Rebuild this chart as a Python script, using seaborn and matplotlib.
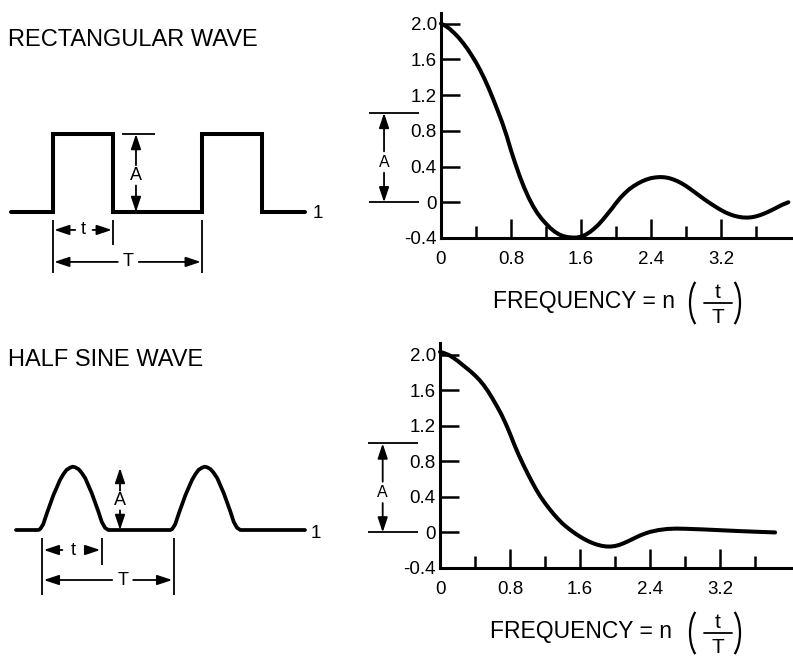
import matplotlib
matplotlib.use("Agg")
import matplotlib.pyplot as plt
from matplotlib.patches import Arc
from matplotlib.ticker import FixedLocator
import seaborn as sns

# ---- data -------------------------------------------------------------
# rectangular pulse train, time in units of the pulse width t, level in units of A
rect_time = [-0.7, 0.0, 0.0, 1.0, 1.0, 2.483, 2.483, 3.483, 3.483, 4.2]
rect_level = [0, 0, 1, 1, 0, 0, 1, 1, 0, 0]
rect_period = 2.483

# one half-sine pulse (offset from pulse start, level), repeated every period
pulse_offset = [-0.06, -0.03, 0.02, 0.08, 0.19, 0.30, 0.355, 0.41, 0.467, 0.51,
                0.555, 0.61, 0.66, 0.72, 0.83, 0.94, 0.995, 1.05, 1.105]
pulse_level = [0.0, 0.016, 0.09, 0.26, 0.55, 0.79, 0.88, 0.95, 0.984, 1.0,
               0.99, 0.96, 0.905, 0.82, 0.58, 0.29, 0.13, 0.036, 0.0]
half_period = 2.2
half_start, half_end = -0.433, 4.383

# spectrum envelope of the rectangular wave
rect_freq = [0.00, 0.05, 0.10, 0.15, 0.20, 0.25, 0.30, 0.35, 0.40, 0.45,
             0.50, 0.55, 0.60, 0.65, 0.70, 0.75, 0.80, 0.85, 0.90, 0.95,
             1.00, 1.05, 1.10, 1.15, 1.20, 1.25, 1.30, 1.35, 1.40, 1.45,
             1.50, 1.55, 1.60, 1.65, 1.70, 1.75, 1.80, 1.85, 1.90, 1.95,
             2.00, 2.05, 2.10, 2.15, 2.20, 2.25, 2.30, 2.35, 2.40, 2.45,
             2.50, 2.55, 2.60, 2.65, 2.70, 2.75, 2.80, 2.85, 2.90, 2.95,
             3.00, 3.05, 3.10, 3.15, 3.20, 3.25, 3.30, 3.35, 3.40, 3.45,
             3.50, 3.55, 3.60, 3.65, 3.70, 3.75, 3.80, 3.85, 3.90, 3.97]
rect_amp = [2.00, 1.975, 1.94, 1.895, 1.845, 1.785, 1.72, 1.645, 1.565, 1.475,
            1.375, 1.265, 1.145, 1.02, 0.89, 0.745, 0.58, 0.43, 0.29, 0.165,
            0.055, -0.04, -0.12, -0.185, -0.24, -0.29, -0.33, -0.36, -0.38, -0.39,
            -0.395, -0.395, -0.385, -0.365, -0.335, -0.295, -0.25, -0.195, -0.135, -0.075,
            -0.01, 0.05, 0.10, 0.145, 0.18, 0.21, 0.235, 0.255, 0.27, 0.278,
            0.282, 0.28, 0.272, 0.257, 0.237, 0.212, 0.182, 0.148, 0.112, 0.076,
            0.04, 0.006, -0.027, -0.058, -0.087, -0.113, -0.134, -0.151, -0.163, -0.17,
            -0.172, -0.168, -0.158, -0.143, -0.124, -0.102, -0.078, -0.053, -0.028, 0.00]

# spectrum envelope of the half sine wave
half_freq = [0.00, 0.05, 0.10, 0.15, 0.20, 0.25, 0.30, 0.35, 0.40, 0.45,
             0.50, 0.55, 0.60, 0.65, 0.70, 0.75, 0.80, 0.85, 0.90, 0.95,
             1.00, 1.05, 1.10, 1.15, 1.20, 1.25, 1.30, 1.35, 1.40, 1.45,
             1.50, 1.55, 1.60, 1.65, 1.70, 1.75, 1.80, 1.85, 1.90, 1.95,
             2.00, 2.05, 2.10, 2.15, 2.20, 2.25, 2.30, 2.35, 2.40, 2.50,
             2.60, 2.70, 2.80, 3.00, 3.20, 3.40, 3.60, 3.83]
half_amp = [2.03, 2.015, 1.995, 1.965, 1.93, 1.89, 1.85, 1.81, 1.765, 1.715,
            1.655, 1.585, 1.505, 1.42, 1.33, 1.225, 1.11, 0.985, 0.87, 0.765,
            0.665, 0.57, 0.48, 0.40, 0.33, 0.265, 0.205, 0.15, 0.10, 0.058,
            0.02, -0.015, -0.047, -0.076, -0.101, -0.122, -0.139, -0.151, -0.158, -0.159,
            -0.153, -0.14, -0.121, -0.099, -0.075, -0.051, -0.029, -0.01, 0.006, 0.027,
            0.039, 0.043, 0.041, 0.034, 0.025, 0.016, 0.008, 0.00]

# axis ticks and labels
x_major = [0, 0.8, 1.6, 2.4, 3.2]
x_major_labels = ["0", "0.8", "1.6", "2.4", "3.2"]
x_minor = [0.4, 1.2, 2.0, 2.8, 3.6]
y_ticks = [-0.4, 0, 0.4, 0.8, 1.2, 1.6, 2.0]
y_tick_labels = ["-0.4", "0", "0.4", "0.8", "1.2", "1.6", "2.0"]

titles = ["RECTANGULAR WAVE", "HALF SINE WAVE"]
freq_label = "FREQUENCY = n"

# ---- style ------------------------------------------------------------
sns.set_theme(style="white", rc={
    "axes.edgecolor": "black", "text.color": "black", "axes.labelcolor": "black",
    "xtick.color": "black", "ytick.color": "black", "axes.grid": False,
})
plt.rcParams["font.family"] = ["Liberation Sans", "DejaVu Sans"]

W, H = 793, 656
fig = plt.figure(figsize=(W / 100, H / 100), dpi=100)


def px_axes(left, top, right, bottom):
    return fig.add_axes([left / W, 1 - bottom / H, (right - left) / W, (bottom - top) / H])


def arrow(ax, start, end, lw=1.3):
    ax.annotate("", xy=end, xytext=start, annotation_clip=False,
                arrowprops=dict(arrowstyle="-|>,head_length=0.75,head_width=0.25",
                                color="black", lw=lw, mutation_scale=12,
                                shrinkA=0, shrinkB=0))


def vline(ax, x, y0, y1, lw=1.3):
    ax.plot([x, x], [y0, y1], color="black", lw=lw, clip_on=False, solid_capstyle="butt")


def hline(ax, y, x0, x1, lw=1.3):
    ax.plot([x0, x1], [y, y], color="black", lw=lw, clip_on=False, solid_capstyle="butt")


# overlay in pixel units for free-standing headings and axis captions
over = fig.add_axes([0, 0, 1, 1])
over.set_xlim(0, W)
over.set_ylim(H, 0)
over.axis("off")

over.text(8, 46, titles[0], fontsize=17, ha="left", va="baseline")
over.text(8, 366, titles[1], fontsize=17, ha="left", va="baseline")

for dy, x0 in [(0, 493), (330, 490)]:
    over.text(x0, 308 + dy, freq_label, fontsize=16.5, ha="left", va="baseline")
    over.text(718, 298 + dy, "t", fontsize=15, ha="center", va="baseline")
    over.text(718, 323 + dy, "T", fontsize=15, ha="center", va="baseline")
    over.plot([704, 732], [303 + dy, 303 + dy], color="black", lw=1.3)
    over.add_patch(Arc((703, 303 + dy), 26, 52, theta1=110, theta2=250, color="black", lw=1.6))
    over.add_patch(Arc((727, 303 + dy), 26, 52, theta1=-70, theta2=70, color="black", lw=1.6))

# ---- rectangular wave -------------------------------------------------
ax_rw = px_axes(0, 100, 330, 290)
ax_rw.set_xlim(-53 / 60, 277 / 60)
ax_rw.set_ylim(-1.0, 112 / 78)
ax_rw.axis("off")
sns.lineplot(x=rect_time, y=rect_level, ax=ax_rw, color="black", linewidth=2.9,
             estimator=None, sort=False)
ax_rw.lines[-1].set_solid_joinstyle("miter")

hline(ax_rw, 1.0, 1.15, 1.7)
arrow(ax_rw, (1.383, 0.60), (1.383, 1.0))
arrow(ax_rw, (1.383, 0.34), (1.383, 0.0))
ax_rw.text(1.383, 0.47, "A", fontsize=13, ha="center", va="center")
vline(ax_rw, 0.0, -0.10, -0.78)
vline(ax_rw, 1.0, -0.10, -0.42)
vline(ax_rw, rect_period, -0.10, -0.78)
arrow(ax_rw, (0.37, -0.23), (0.02, -0.23))
arrow(ax_rw, (0.66, -0.23), (0.98, -0.23))
ax_rw.text(0.5, -0.23, "t", fontsize=13, ha="center", va="center")
arrow(ax_rw, (1.08, -0.64), (0.02, -0.64))
arrow(ax_rw, (1.43, -0.64), (rect_period - 0.02, -0.64))
ax_rw.text(1.25, -0.64, "T", fontsize=13, ha="center", va="center")
ax_rw.text(4.33, -0.077, "1", fontsize=13.5, ha="left", va="baseline")

# ---- half sine wave ---------------------------------------------------
half_time = ([half_start] + pulse_offset
             + [o + half_period for o in pulse_offset] + [half_end])
half_level = [0.0] + pulse_level + pulse_level + [0.0]

ax_hw = px_axes(0, 420, 330, 620)
ax_hw.set_xlim(-0.7, 4.8)
ax_hw.set_ylim(-90 / 63.3, 110 / 63.3)
ax_hw.axis("off")
sns.lineplot(x=half_time, y=half_level, ax=ax_hw, color="black", linewidth=2.7,
             estimator=None, sort=False)

arrow(ax_hw, (1.3, 0.62), (1.3, 0.98))
arrow(ax_hw, (1.3, 0.31), (1.3, 0.0))
ax_hw.text(1.3, 0.46, "A", fontsize=13, ha="center", va="center")
vline(ax_hw, 0.0, -0.126, -1.03)
vline(ax_hw, 1.0, -0.126, -0.55)
vline(ax_hw, half_period, -0.126, -1.03)
arrow(ax_hw, (0.34, -0.316), (0.03, -0.316))
arrow(ax_hw, (0.72, -0.316), (0.97, -0.316))
ax_hw.text(0.52, -0.316, "t", fontsize=13, ha="center", va="center")
arrow(ax_hw, (1.17, -0.79), (0.03, -0.79))
arrow(ax_hw, (1.52, -0.79), (half_period - 0.03, -0.79))
ax_hw.text(1.35, -0.79, "T", fontsize=13, ha="center", va="center")
ax_hw.text(4.48, -0.126, "1", fontsize=13.5, ha="left", va="baseline")


# ---- spectra ------------------------------------------------------------
def style_spectrum(ax, xmax, ymax):
    ax.set_xlim(0, xmax)
    ax.set_ylim(-0.4, ymax)
    ax.set_facecolor("none")
    for side in ["top", "right"]:
        ax.spines[side].set_visible(False)
    for side in ["left", "bottom"]:
        ax.spines[side].set_linewidth(2.2)
        ax.spines[side].set_color("black")
    ax.xaxis.set_major_locator(FixedLocator(x_major))
    ax.set_xticklabels(x_major_labels)
    ax.xaxis.set_minor_locator(FixedLocator(x_minor))
    ax.yaxis.set_major_locator(FixedLocator(y_ticks))
    ax.set_yticklabels(y_tick_labels)
    ax.tick_params(axis="x", which="major", direction="in", length=14, width=1.8,
                   pad=9, labelsize=13.5, bottom=True)
    ax.tick_params(axis="x", which="minor", direction="in", length=8.5, width=1.8,
                   bottom=True)
    ax.tick_params(axis="y", which="major", direction="in", length=14, width=1.8,
                   pad=3, labelsize=13.5, left=True)
    ax.set_xlabel("")
    ax.set_ylabel("")


def amplitude_marker(ax, x_arrow, y_label):
    hline(ax, 1.0, -0.823, -0.251)
    hline(ax, 0.0, -0.823, -0.251)
    arrow(ax, (x_arrow, 0.57), (x_arrow, 1.0))
    arrow(ax, (x_arrow, 0.33), (x_arrow, 0.0))
    ax.text(x_arrow, y_label, "A", fontsize=11.5, ha="center", va="center")


ax_rs = px_axes(441, 13, 793, 238)
sns.lineplot(x=rect_freq, y=rect_amp, ax=ax_rs, color="black", linewidth=2.9,
             estimator=None, sort=False, clip_on=False)
style_spectrum(ax_rs, 352 / 87.5, 188 / 88.75)
amplitude_marker(ax_rs, -0.651, 0.45)

ax_hs = px_axes(440, 343, 793, 568)
sns.lineplot(x=half_freq, y=half_amp, ax=ax_hs, color="black", linewidth=2.9,
             estimator=None, sort=False, clip_on=False)
style_spectrum(ax_hs, 353 / 87.5, 189 / 88.75)
amplitude_marker(ax_hs, -0.655, 0.45)

fig.savefig("out.png", dpi=100, facecolor="white")
